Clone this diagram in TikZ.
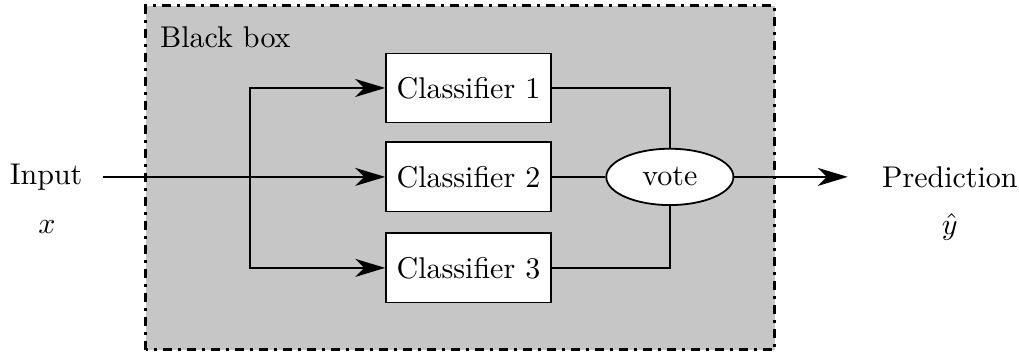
\documentclass[tikz,border=0pt]{standalone}
\usepackage{tikz}
\usetikzlibrary{arrows.meta, shapes.geometric, positioning, calc}

\begin{document}
\begin{tikzpicture}[>={Stealth[length=10pt, width=6pt, inset=3pt]}, semithick,
  clf/.style={draw, fill=white, minimum width=1.93cm, minimum height=0.81cm},
  voter/.style={draw, ellipse, fill=white, minimum width=1.49cm, minimum height=0.66cm, inner sep=0pt}]

  \useasboundingbox (0,0) rectangle (11.94,4.147);

  % Black box
  \draw[line width=1pt, dashdotted, fill=gray!45] (1.71,0.047) rectangle (9.079,4.077);
  \node (bb) at (2.64,3.71) {Black box};

  % Classifiers and vote
  \node[clf] (c1) at (5.489,3.116) {Classifier 1};
  \node[clf] (c2) at (5.489,2.074) {Classifier 2};
  \node[clf] (c3) at (5.489,1.008) {Classifier 3};
  \node[voter] (vote) at (7.849,2.074) {vote};

  % Input and prediction
  \node (in) at (0.54,2.074) {Input};
  \node (x) at (0.55,1.49) {$x$};
  \node (out) at (11.13,2.074) {Prediction};
  \node (y) at (11.13,1.49) {$\hat{y}$};
  \coordinate (start) at (1.207,2.074);
  \coordinate (split) at (2.929,2.074);
  \coordinate (tip) at (9.934,2.074);

  % Connections
  \draw[->] (start) -- (c2.west);
  \draw[->] (split) |- (c1.west);
  \draw[->] (split) |- (c3.west);
  \draw (c1.east) -| (vote.north);
  \draw (c2.east) -- (vote.west);
  \draw (c3.east) -| (vote.south);
  \draw[->] (vote.east) -- (tip);

\end{tikzpicture}
\end{document}
